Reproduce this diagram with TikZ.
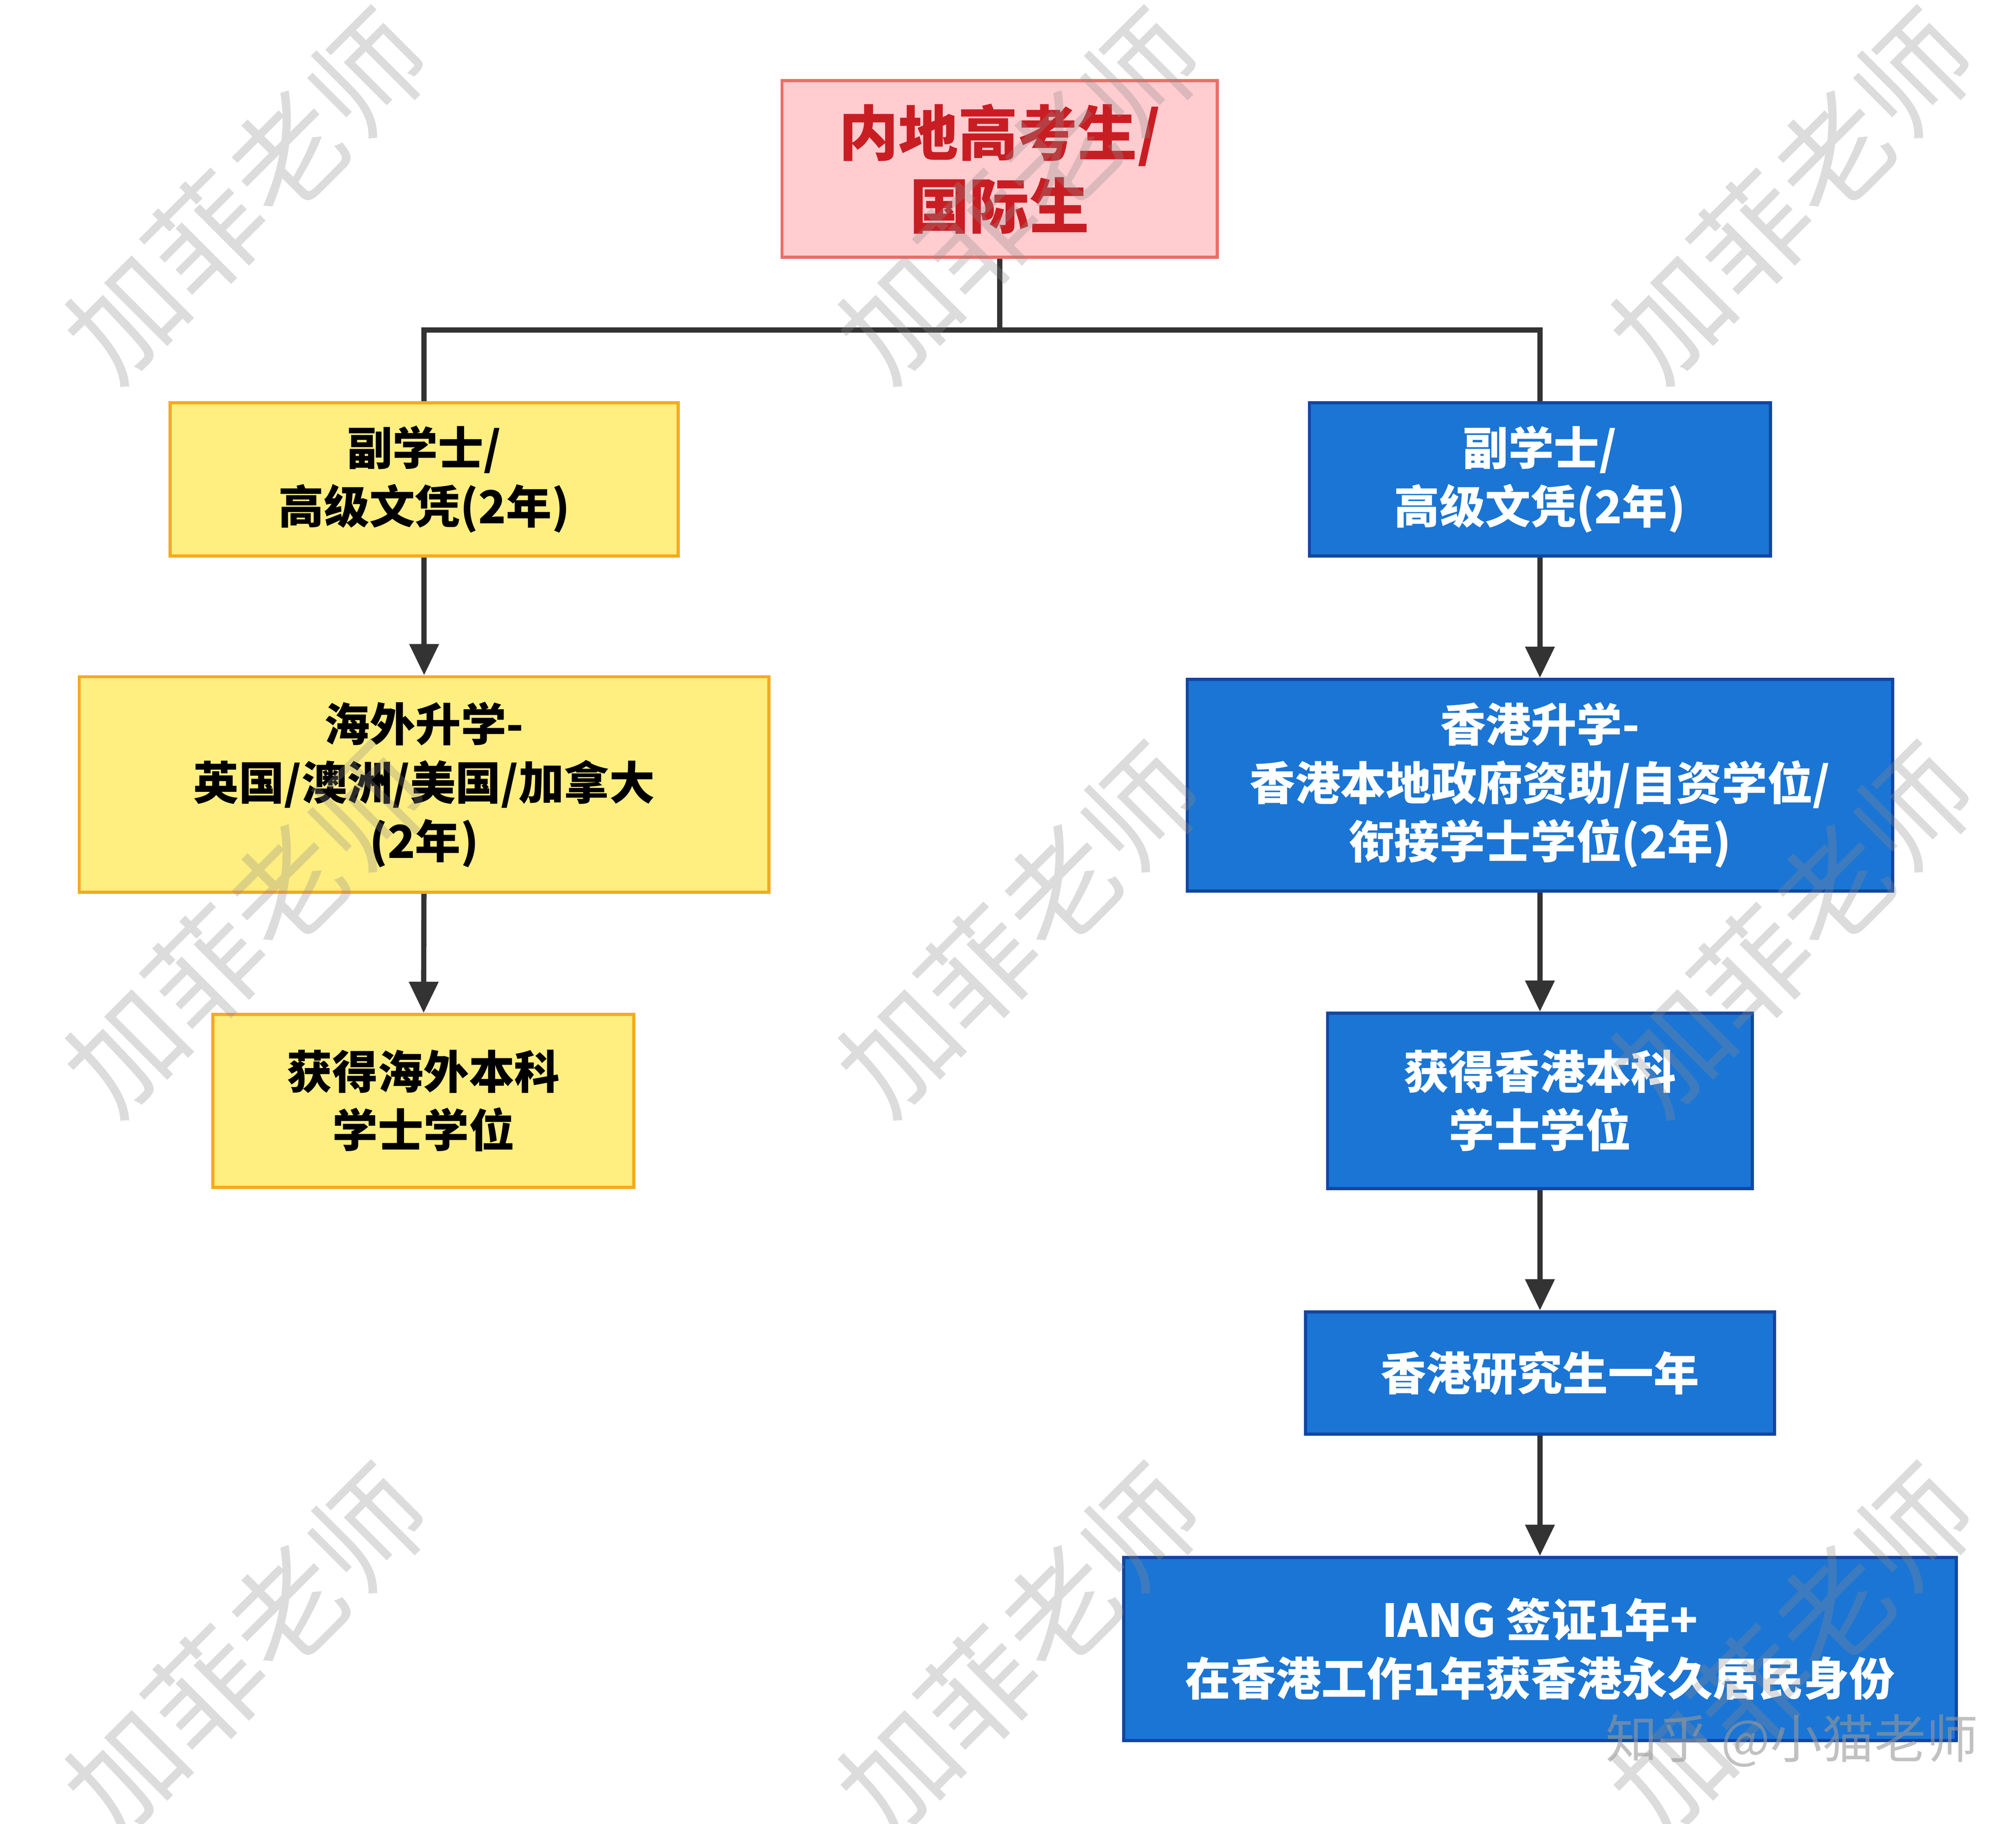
\documentclass[tikz,border=0pt]{standalone}
\usepackage{fontspec}
\setmainfont{Noto Sans CJK SC}
\usetikzlibrary{arrows.meta}
\definecolor{pinkf}{RGB}{255,204,208}
\definecolor{pinkd}{RGB}{234,110,105}
\definecolor{redt}{RGB}{200,30,35}
\definecolor{yelf}{RGB}{255,238,128}
\definecolor{yeld}{RGB}{245,170,30}
\definecolor{bluef}{RGB}{27,117,212}
\definecolor{blued}{RGB}{18,70,160}
\definecolor{arr}{RGB}{51,51,51}
\tikzset{
 box/.style={draw,line width=1.2pt,align=center,font=\bfseries\fontsize{17.5}{22.5}\selectfont,inner sep=0pt},
 yb/.style={box,fill=yelf,draw=yeld,text=black},
 bb/.style={box,fill=bluef,draw=blued,text=white},
 ar/.style={draw=arr,line width=2pt,-{Triangle[length=12pt,width=11pt]}},
 wm/.style={text=black!45,opacity=0.3,rotate=45,font=\fontsize{44}{44}\selectfont}
}
\begin{document}
\begin{tikzpicture}[x=0.5pt,y=-0.5pt]
\useasboundingbox[fill=white] (0,0) rectangle (1552,1404);
\node[box,fill=pinkf,draw=pinkd,text=redt,font=\bfseries\fontsize{23}{28}\selectfont,minimum width=167.5pt,minimum height=68pt] (top) at (769.5,130) {内地高考生/\\国际生};
\node[yb,minimum width=195.5pt,minimum height=59pt] (l1) at (326.5,369) {副学士/\\高级文凭(2年)};
\node[yb,minimum width=265.5pt,minimum height=83pt] (l2) at (326.5,604) {海外升学-\\英国/澳洲/美国/加拿大\\(2年)};
\node[yb,minimum width=162pt,minimum height=66.5pt] (l3) at (326,847.5) {获得海外本科\\学士学位};
\node[bb,minimum width=177.5pt,minimum height=59pt] (r1) at (1185.5,369) {副学士/\\高级文凭(2年)};
\node[bb,minimum width=271.5pt,minimum height=81.5pt] (r2) at (1185.5,604.5) {香港升学-\\香港本地政府资助/自资学位/\\衔接学士学位(2年)};
\node[bb,minimum width=163.5pt,minimum height=67.5pt] (r3) at (1185.5,847.5) {获得香港本科\\学士学位};
\node[bb,minimum width=180.5pt,minimum height=47pt] (r4) at (1185.5,1057) {香港研究生一年};
\node[bb,minimum width=320.5pt,minimum height=70.5pt] (r5) at (1185.5,1269.5) {IANG 签证1年+\\在香港工作1年获香港永久居民身份};
\coordinate (j) at (769.5,254);
\draw[arr,line width=2pt] (top.south) -- (j);
\draw[arr,line width=2pt] (l1.north) |- (j) -| (r1.north);
\draw[ar] (l1) -- (l2);
\draw[ar] (l2) -- (l3);
\draw[ar] (r1) -- (r2);
\draw[ar] (r2) -- (r3);
\draw[ar] (r3) -- (r4);
\draw[ar] (r4) -- (r5);
\foreach \x in {190,785,1380}{
 \foreach \y in {150,715,1270}{
  \node[wm] (w\x\y) at (\x,\y) {加菲老师};
 }}
\node[text=black!40,opacity=0.6,font=\fontsize{20}{20}\selectfont,anchor=east] (zh) at (1530,1340) {知乎 @小猫老师};
\end{tikzpicture}
\end{document}
